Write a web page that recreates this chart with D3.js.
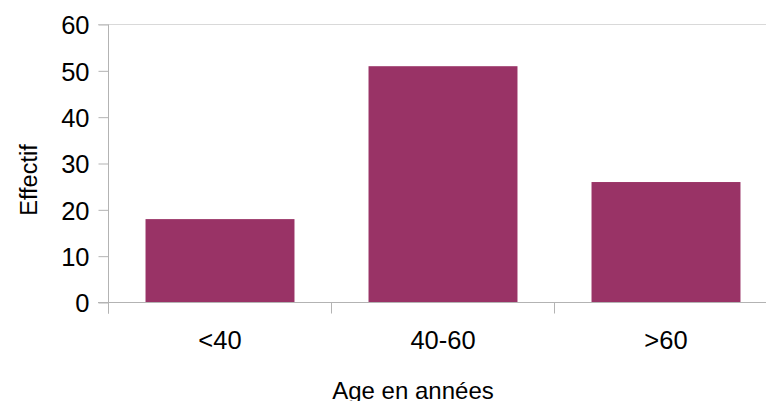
<!DOCTYPE html>
<html><head><meta charset="utf-8">
<script src="https://cdn.jsdelivr.net/npm/d3@7"></script>
<style>body{margin:0;background:#fff}svg{display:block;font-family:"Liberation Sans",Arial,sans-serif}</style>
</head><body><svg id="c" width="766" height="401"></svg>
<script>
const categories = ["<40", "40-60", ">60"];
const values = [18, 51, 26];
const yTicks = [0, 10, 20, 30, 40, 50, 60];
const xTitle = "Age en années";
const yTitle = "Effectif";

(function () {
const svg = d3.select("#c");
const mLeft = 108.5, mRight = 777.5, mTop = 24.5, mBottom = 302.5;
const x = d3.scaleBand().domain(categories).range([mLeft, mRight]).paddingInner(0.332).paddingOuter(0.166);
const y = d3.scaleLinear().domain([0, 60]).range([mBottom, mTop]);

// top border line
svg.append("line").attr("x1", 98).attr("x2", mRight).attr("y1", y(60)).attr("y2", y(60))
  .attr("stroke", "#d9d9d9").attr("stroke-width", 1);

// bars
svg.selectAll("rect.bar").data(values).enter().append("rect")
  .attr("x", (d, i) => x(categories[i]))
  .attr("width", x.bandwidth())
  .attr("y", d => y(d))
  .attr("height", d => y(0) - y(d))
  .attr("fill", "#993366");

// y axis
const ya = svg.append("g").attr("transform", `translate(${mLeft},0)`)
  .call(d3.axisLeft(y).tickValues(yTicks).tickSize(10).tickPadding(9));
ya.select(".domain").attr("stroke", "#b3b3b3").attr("d", `M0,${mTop}V${mBottom + 11}`);
ya.selectAll(".tick line").attr("stroke", "#b3b3b3");
ya.selectAll(".tick text").attr("font-size", 25.5).attr("fill", "#000")
  .attr("font-family", "Liberation Sans, Arial, sans-serif").attr("dy", "0.36em");

// x axis
const bandEdges = d3.scaleLinear().domain([0, 3]).range([mLeft, mRight]);
const xa = svg.append("g").attr("transform", `translate(0,${mBottom})`);
xa.append("line").attr("x1", 98).attr("x2", mRight).attr("y1", 0).attr("y2", 0).attr("stroke", "#b3b3b3");
xa.selectAll("line.t").data(d3.range(4)).enter().append("line")
  .attr("x1", d => bandEdges(d)).attr("x2", d => bandEdges(d)).attr("y1", 0).attr("y2", 11).attr("stroke", "#b3b3b3");
xa.selectAll("text").data(categories).enter().append("text")
  .attr("x", d => x(d) + x.bandwidth() / 2).attr("y", 46.5)
  .attr("text-anchor", "middle").attr("font-size", 25.5).attr("fill", "#000").text(d => d);

// titles
svg.append("text").attr("x", 413).attr("y", 399).attr("text-anchor", "middle")
  .attr("font-size", 24).attr("fill", "#000").text(xTitle);
svg.append("text").attr("transform", "translate(37,180) rotate(-90)").attr("text-anchor", "middle")
  .attr("font-size", 23.5).attr("fill", "#000").text(yTitle);
})();
</script></body></html>
